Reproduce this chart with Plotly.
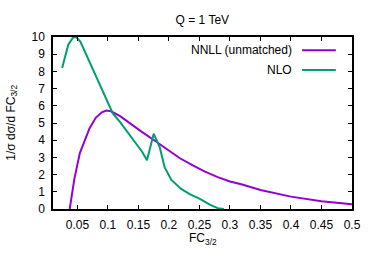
import plotly.graph_objects as go

# NNLL (unmatched)
nnll_x = [0.0374, 0.045, 0.054, 0.062, 0.07, 0.08, 0.09, 0.0975, 0.105, 0.12, 0.136,
          0.155, 0.177, 0.2, 0.218, 0.24, 0.259, 0.28, 0.3, 0.32, 0.35, 0.4, 0.45, 0.5]
nnll_y = [0.0, 1.75, 3.25, 4.0, 4.7, 5.3, 5.62, 5.72, 5.68, 5.4, 4.98,
          4.5, 3.97, 3.4, 2.95, 2.52, 2.17, 1.85, 1.6, 1.42, 1.1, 0.72, 0.45, 0.27]

# NLO
nlo_x = [0.025, 0.035, 0.043, 0.048, 0.055, 0.07, 0.09, 0.108, 0.12, 0.136, 0.156,
         0.164, 0.175, 0.185, 0.193, 0.204, 0.22, 0.234, 0.25, 0.267, 0.28, 0.29]
nlo_y = [8.2, 9.55, 9.98, 10.0, 9.72, 8.54, 6.96, 5.56, 5.05, 4.3, 3.33,
         2.83, 4.38, 3.58, 2.42, 1.69, 1.17, 0.87, 0.6, 0.25, 0.05, 0.0]

x_ticks = [0.05, 0.1, 0.15, 0.2, 0.25, 0.3, 0.35, 0.4, 0.45, 0.5]
x_tick_labels = ["0.05", "0.1", "0.15", "0.2", "0.25", "0.3", "0.35", "0.4", "0.45", "0.5"]
y_ticks = list(range(0, 11))

purple = "#9400D3"
green = "#009E73"
font = "Liberation Sans, Arial, sans-serif"
fs = 12

fig = go.Figure()
fig.add_trace(go.Scatter(x=nnll_x, y=nnll_y, mode="lines", name="NNLL (unmatched)",
                         line=dict(color=purple, width=2), showlegend=False))
fig.add_trace(go.Scatter(x=nlo_x, y=nlo_y, mode="lines", name="NLO",
                         line=dict(color=green, width=2), showlegend=False))

# gnuplot-style key: text right aligned, sample line to its right
legend_items = [("NNLL (unmatched)", purple, 0.923), ("NLO", green, 0.808)]
for label, col, yp in legend_items:
    fig.add_annotation(x=0.805, y=yp, xref="paper", yref="paper", text=label,
                       showarrow=False, xanchor="right", yanchor="middle",
                       font=dict(family=font, size=fs, color="black"))
    fig.add_shape(type="line", xref="paper", yref="paper",
                  x0=0.833, x1=0.946, y0=yp, y1=yp, line=dict(color=col, width=2))

# axis titles
fig.add_annotation(x=0.5, y=-0.175, xref="paper", yref="paper", text="FC<sub>3/2</sub>",
                   showarrow=False, xanchor="center", yanchor="middle",
                   font=dict(family=font, size=fs, color="black"))
fig.add_annotation(x=-0.138, y=0.5, xref="paper", yref="paper",
                   text="1/σ dσ/d FC<sub>3/2</sub>", textangle=-90,
                   showarrow=False, xanchor="center", yanchor="middle",
                   font=dict(family=font, size=fs, color="black"))

fig.update_layout(
    width=374, height=262,
    margin=dict(l=53, r=22, t=37, b=53, autoexpand=False),
    paper_bgcolor="white", plot_bgcolor="white",
    font=dict(family=font, size=fs, color="black"),
    title=dict(text="Q = 1 TeV", x=0.541, xanchor="center", y=0.925, yanchor="middle",
               font=dict(family=font, size=fs, color="black")),
)
fig.update_xaxes(range=[0.01, 0.5], tickvals=x_ticks, ticktext=x_tick_labels,
                 ticks="inside", ticklen=4, tickwidth=1, tickcolor="black",
                 showline=True, linecolor="black", linewidth=1.5, mirror="ticks",
                 showgrid=False, zeroline=False, automargin=False,
                 ticklabelstandoff=4, tickfont=dict(family=font, size=fs))
fig.update_yaxes(range=[0, 10], tickvals=y_ticks,
                 ticks="inside", ticklen=4, tickwidth=1, tickcolor="black",
                 showline=True, linecolor="black", linewidth=1.5, mirror="ticks",
                 showgrid=False, zeroline=False, automargin=False,
                 ticklabelstandoff=4, tickfont=dict(family=font, size=fs))

fig.write_html("out.html", config={"displayModeBar": False},
               post_script="document.body.style.margin='0';document.body.style.padding='0';")
